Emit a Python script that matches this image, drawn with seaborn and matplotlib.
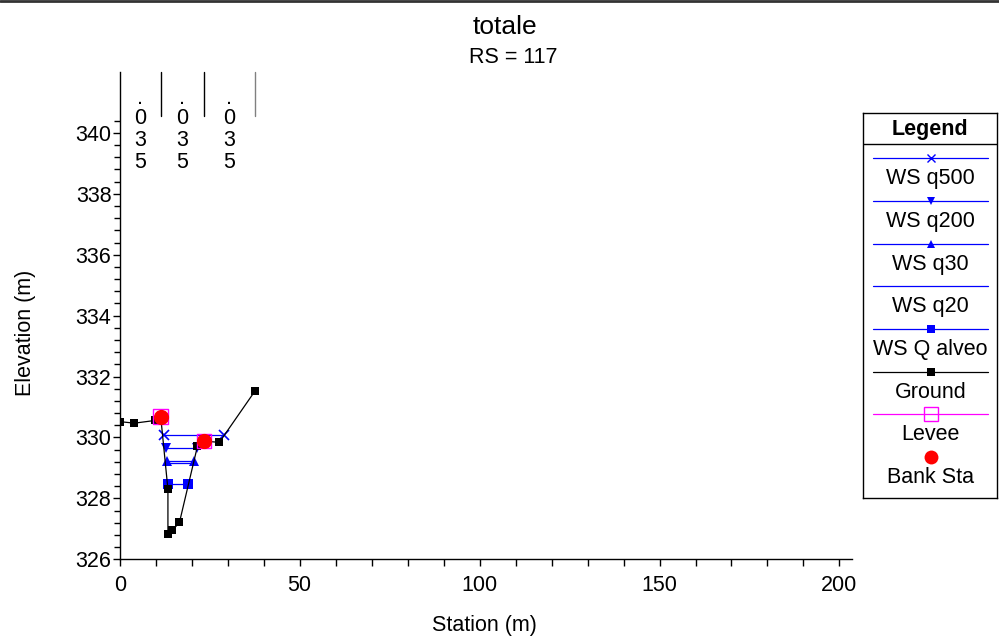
import matplotlib
matplotlib.use("Agg")
import matplotlib.pyplot as plt
from matplotlib.lines import Line2D
from matplotlib.ticker import FixedLocator
from matplotlib.transforms import blended_transform_factory
import numpy as np
import pandas as pd
import seaborn as sns

# ---------------- data ----------------
ground_x = [0.0, 4.1, 9.9, 11.4, 13.4, 13.4, 14.6, 16.6, 21.6, 23.4, 27.7, 37.5]
ground_y = [330.52, 330.47, 330.56, 330.68, 328.30, 326.84, 326.95, 327.21, 329.71, 329.88, 329.84, 331.51]

bank_x = [11.4, 23.4]
bank_y = [330.68, 329.88]
levee_x = [11.4, 23.4]
levee_y = [330.68, 329.88]

ws_names = ["WS q500", "WS q200", "WS q30", "WS q20", "WS Q alveo"]
ws_left = [12.3, 12.8, 13.05, 13.1, 13.4]
ws_right = [29.0, 21.4, 20.7, 20.6, 19.0]
ws_elev = [330.08, 329.64, 329.22, 329.17, 328.46]

manning_bounds = [0.0, 11.4, 23.4, 37.5]
manning_n = [0.035, 0.035, 0.035]

title = "totale"
subtitle = "RS = 117"

# ---------------- style ----------------
sns.set_theme(style="ticks")
plt.rcParams["font.family"] = ["Liberation Sans", "DejaVu Sans"]
plt.rcParams["axes.linewidth"] = 1.0
for k in ["text.color", "axes.labelcolor", "xtick.color", "ytick.color", "axes.edgecolor"]:
    plt.rcParams[k] = "black"

FS = 15.5
fig = plt.figure(figsize=(9.99, 6.36), dpi=100)
W, H = 999.0, 636.0
ax_l, ax_r, ax_t, ax_b = 119.7, 851.7, 72.0, 559.3
ax = fig.add_axes([ax_l / W, 1 - ax_b / H, (ax_r - ax_l) / W, (ax_b - ax_t) / H])

blue = "#0000FF"
ws_markers = ["x", "v", "^", None, "s"]
ws_msize = [7.5, 7.5, 7.5, 0, 7.5]

for name, xl, xr, z, m, ms in zip(ws_names, ws_left, ws_right, ws_elev, ws_markers, ws_msize):
    df = pd.DataFrame({"x": [xl, xr], "y": [z, z]})
    sns.lineplot(data=df, x="x", y="y", ax=ax, sort=False, estimator=None,
                 color=blue, lw=0.9, marker=m if m else "", markersize=ms,
                 markeredgecolor=blue, markerfacecolor=blue, mew=1.2 if m == "x" else 0)

gdf = pd.DataFrame({"x": ground_x, "y": ground_y})
sns.lineplot(data=gdf, x="x", y="y", ax=ax, sort=False, estimator=None,
             color="black", lw=0.9, marker="s", markersize=5.8,
             markeredgecolor="black", markerfacecolor="black", mew=0)

ldf = pd.DataFrame({"x": levee_x, "y": levee_y})
sns.scatterplot(data=ldf, x="x", y="y", ax=ax, marker="s", s=110,
                facecolor="none", edgecolor="#FF00FF", linewidth=1.0, zorder=5)
bdf = pd.DataFrame({"x": bank_x, "y": bank_y})
sns.scatterplot(data=bdf, x="x", y="y", ax=ax, marker="o", s=120,
                color="#FF0000", edgecolor="#FF0000", linewidth=0, zorder=6)

# manning n annotations
ymax = 342.0
line_bottom = 340.57
for i, b in enumerate(manning_bounds[1:]):
    c = "#808080" if i == len(manning_bounds) - 2 else "black"
    ax.plot([b, b], [line_bottom, ymax], color=c, lw=1.0, clip_on=False)
tr = blended_transform_factory(ax.transData, fig.transFigure)
baselines_px = [103.5, 124.5, 146.0, 167.5]
for i, n in enumerate(manning_n):
    mid = (manning_bounds[i] + manning_bounds[i + 1]) / 2
    s = f"{n:.3f}".lstrip("0")
    for ch, bpx in zip(s, baselines_px):
        ax.text(mid, 1 - bpx / H, ch, ha="center", va="baseline", fontsize=FS,
                color="black", transform=tr)

# axes
ax.set_xlim(0, 203.4)
ax.set_ylim(326, ymax)
ax.xaxis.set_major_locator(FixedLocator([0, 50, 100, 150, 200]))
ax.xaxis.set_minor_locator(FixedLocator(np.arange(0, 201, 10)))
ax.yaxis.set_major_locator(FixedLocator(np.arange(326, 341, 2)))
ax.yaxis.set_minor_locator(FixedLocator(np.arange(326, 340.5, 0.4)))
ax.tick_params(axis="both", which="major", direction="out", length=5, width=1,
               labelsize=FS, colors="black")
ax.tick_params(axis="x", which="major", pad=6)
ax.tick_params(axis="y", which="major", pad=1)
ax.tick_params(axis="both", which="minor", direction="out", length=4, width=1, colors="black")
ax.tick_params(axis="x", which="minor", length=5)
for sp in ["top", "right"]:
    ax.spines[sp].set_visible(False)
for sp in ["left", "bottom"]:
    ax.spines[sp].set_color("black")
ax.set_xlabel("Station (m)", fontsize=FS, color="black")
ax.set_ylabel("Elevation (m)", fontsize=FS, color="black")
ax.xaxis.set_label_coords((484 - ax_l) / (ax_r - ax_l), -(625.5 - ax_b) / (ax_b - ax_t))
ax.yaxis.set_label_coords(-(ax_l - 25) / (ax_r - ax_l), (ax_b - 332.5) / (ax_b - ax_t))
ax.xaxis.label.set_va("center")
ax.yaxis.label.set_va("center")
ax.set_facecolor("white")
ax.grid(False)

# titles
fig.text(505 / W, 1 - 27 / H, title, ha="center", va="center", fontsize=19, color="black")
fig.text(513 / W, 1 - 57.5 / H, subtitle, ha="center", va="center", fontsize=15.5, color="black")

# top frame line
fig.add_artist(Line2D([0, 1], [1 - 1.2 / H] * 2, color="#333333", lw=2.0))

# ---------------- legend ----------------
lx0, lx1, ly0, ly1 = 863.3, 997.3, 113.3, 497.7
lg = fig.add_axes([lx0 / W, 1 - ly1 / H, (lx1 - lx0) / W, (ly1 - ly0) / H])
lg.set_xlim(lx0, lx1)
lg.set_ylim(ly1, ly0)
lg.set_xticks([])
lg.set_yticks([])
for sp in lg.spines.values():
    sp.set_color("black")
    sp.set_linewidth(1.0)
lg.axhline(144.3, color="black", lw=1.0)
lg.text((lx0 + lx1) / 2, 129.0, "Legend", ha="center", va="center", fontsize=FS,
        fontweight="bold", color="black")

entries = [
    ("WS q500", blue, "x", 6, blue, True),
    ("WS q200", blue, "v", 6, blue, True),
    ("WS q30", blue, "^", 6, blue, True),
    ("WS q20", blue, None, 0, blue, True),
    ("WS Q alveo", blue, "s", 6, blue, True),
    ("Ground", "black", "s", 6, "black", True),
    ("Levee", "#FF00FF", "s", 10, "none", True),
    ("Bank Sta", "#FF0000", "o", 10, "#FF0000", False),
]
line_y0 = 158.3
step = 42.65
mx = 930.7
for i, (lab, col, mk, ms, mfc, has_line) in enumerate(entries):
    yy = line_y0 + i * step
    if has_line:
        lg.plot([872.7, 988.3], [yy, yy], color=col, lw=0.9)
    if mk:
        lg.plot([mx], [yy], marker=mk, markersize=ms, color=col, markerfacecolor=mfc,
                markeredgecolor=col, mew=1.0 if mk in ("x",) or mfc == "none" else 0,
                linestyle="none")
    lg.text(mx, yy + 20.5, lab, ha="center", va="center", fontsize=FS, color="black")

fig.savefig("out.png", dpi=100, facecolor="white")
